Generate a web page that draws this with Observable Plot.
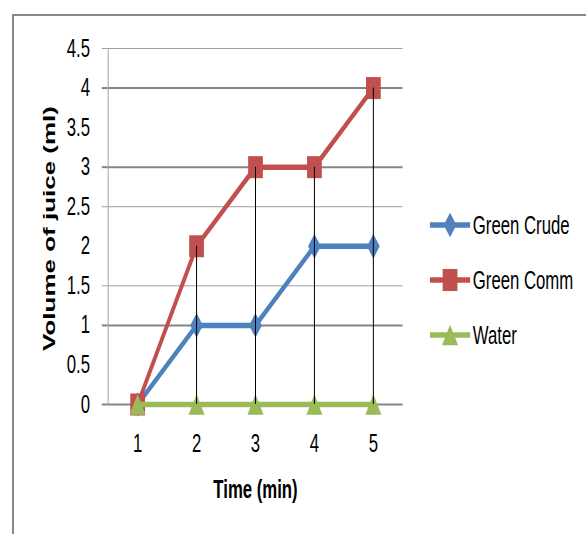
<!DOCTYPE html>
<html>
<head>
<meta charset="utf-8">
<script src="https://cdn.jsdelivr.net/npm/d3@7"></script>
<script src="https://cdn.jsdelivr.net/npm/@observablehq/plot@0.6"></script>
<style>
  body { margin: 0; background: #fff; }
  #chart { position: relative; width: 586px; height: 534px; overflow: hidden; background: #fff; }
  #border { position: absolute; left: 12px; top: 14px; width: 620px; height: 620px;
            border-top: 2px solid #898989; border-left: 2px solid #898989; }
  /* the drawing is laid out wide, then narrowed to the panel width */
  #canvas { position: absolute; left: 0; top: 0; transform-origin: 0 0; }
  #canvas svg { position: absolute; left: 0; top: 0; }
</style>
</head>
<body>
<div id="chart">
  <div id="border"></div>
  <div id="canvas"></div>
</div>
<script>
// ---- data ----
const times = [1, 2, 3, 4, 5];
const seriesNames = ["Green Crude", "Green Comm", "Water"];
const greenCrude = [0, 1, 1, 2, 2];
const greenComm = [0, 2, 3, 3, 4];
const water = [0, 0, 0, 0, 0];
const yTicks = [0, 0.5, 1, 1.5, 2, 2.5, 3, 3.5, 4, 4.5];
const gridMajor = [0, 1, 3, 4];
const gridMinor = [1.5, 2.5, 4.5];
const yTitle = "Volume of juice (ml)";
const xTitle = "Time (min)";

const seriesValues = [greenCrude, greenComm, water];
const colors = ["#4f81bd", "#c0504d", "#9bbb59"];

// ---- marker shapes (k = radius given by Plot) ----
const diamondMark = {draw(c, size) { const k = Math.sqrt(size / Math.PI), h = k * 1.3;
  c.moveTo(0, -h); c.lineTo(k, 0); c.lineTo(0, h); c.lineTo(-k, 0); c.closePath(); }};
const squareMark = {draw(c, size) { const k = Math.sqrt(size / Math.PI);
  c.moveTo(-k, -k); c.lineTo(k, -k); c.lineTo(k, k); c.lineTo(-k, k); c.closePath(); }};
const triangleMark = {draw(c, size) { const k = Math.sqrt(size / Math.PI), h = k * 0.85;
  c.moveTo(0, -h); c.lineTo(k, h); c.lineTo(-k, h); c.closePath(); }};
const shapes = [diamondMark, squareMark, triangleMark];
const radii = [9.5, 11, 12];

// ---- layout ----
const squeeze = 586 / 875;
const W = 875, H = 534;
const font = "'Liberation Sans', Arial, sans-serif";

const series = seriesNames.map((name, j) => ({
  name, color: colors[j], shape: shapes[j], r: radii[j],
  rows: times.map((t, i) => ({time: t, value: seriesValues[j][i]}))
}));
const tops = times.map((t, i) => ({time: t, top: d3.max(seriesValues, v => v[i])}));
const xDomain = [d3.min(times) - 0.5, d3.max(times) + 0.5];

const plot = Plot.plot({
  width: W, height: H,
  marginLeft: 161, marginRight: 274, marginTop: 48, marginBottom: 130,
  x: {domain: xDomain},
  y: {domain: [0, 4.5]},
  style: {fontFamily: font, fontSize: "25px", color: "#000", background: "transparent", overflow: "visible"},
  marks: [
    Plot.ruleY(gridMinor, {stroke: "#8a8a8a", strokeWidth: 1}),
    Plot.ruleY(gridMajor, {stroke: "#858585", strokeWidth: 2}),
    Plot.axisY(gridMinor, {tickSize: 9, stroke: "#8a8a8a", strokeWidth: 1, fill: "none", label: null}),
    Plot.axisY(gridMajor, {tickSize: 9, stroke: "#858585", strokeWidth: 2, fill: "none", label: null}),
    Plot.ruleX([xDomain[0]], {stroke: "#a6a6a6", strokeWidth: 1.5}),
    Plot.axisY(yTicks, {tickSize: 0, tickPadding: 27, label: null, fill: "#000", tickFormat: d => `${d}`}),
    Plot.axisX(times, {tickSize: 0, tickPadding: 30, label: null, fill: "#000", tickFormat: d => `${d}`}),
    ...series.flatMap(s => [
      Plot.line(s.rows, {x: "time", y: "value", stroke: s.color, strokeWidth: 5.5, strokeLinejoin: "round", strokeLinecap: "round"}),
      Plot.dot(s.rows, {x: "time", y: "value", symbol: s.shape, r: s.r, fill: s.color, stroke: "none"})
    ]),
    Plot.ruleX(tops, {x: "time", y1: 0, y2: "top", stroke: "#000", strokeWidth: 1.5}),
    Plot.text([yTitle], {frameAnchor: "left", dx: -88, dy: 2, rotate: -90, fontWeight: "bold", fontSize: 26,
      fill: "#000", textAnchor: "middle", lineAnchor: "middle"}),
    Plot.text([xTitle], {frameAnchor: "bottom", dy: 85, fontWeight: "bold", fontSize: 25,
      fill: "#000", textAnchor: "middle", lineAnchor: "middle"})
  ]
});

const canvas = document.getElementById("canvas");
canvas.style.width = W + "px";
canvas.style.height = H + "px";
canvas.style.transform = `scaleX(${squeeze})`;
canvas.appendChild(plot);

// ---- legend ----
const legend = d3.create("svg").attr("width", W).attr("height", H)
  .style("font-family", font).style("font-size", "25px");
const legendTop = 225, legendStep = 55, lineX0 = 642, lineX1 = 702;
series.forEach((s, j) => {
  const g = legend.append("g").attr("transform", `translate(0,${legendTop + j * legendStep})`);
  g.append("line").attr("x1", lineX0).attr("x2", lineX1).attr("stroke", s.color).attr("stroke-width", 5.5);
  g.append("path").attr("transform", `translate(${(lineX0 + lineX1) / 2},0)`)
    .attr("d", d3.symbol(s.shape, s.r * s.r * Math.PI)()).attr("fill", s.color);
  g.append("text").attr("x", lineX1 + 4).attr("dy", "0.35em").attr("fill", "#000").text(s.name);
});
canvas.appendChild(legend.node());
</script>
</body>
</html>
